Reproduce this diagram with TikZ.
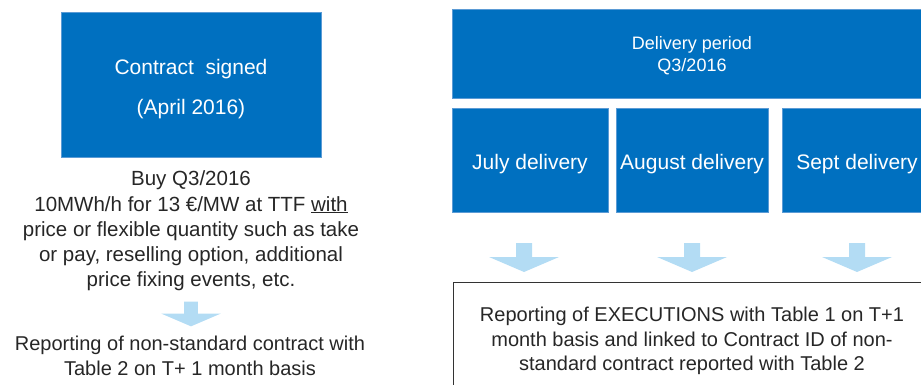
\documentclass[tikz,border=0pt]{standalone}
\usepackage{fontspec}
\setmainfont{Liberation Sans}
\definecolor{boxblue}{HTML}{0070C0}
\definecolor{edgeblue}{HTML}{5B9BD5}
\definecolor{arrowblue}{HTML}{B3DCF4}
\tikzset{
	bluebox/.style={fill=boxblue,draw=edgeblue,line width=0.6pt,inner sep=0pt},
	boxtext/.style={text=white,align=center,inner sep=0pt},
	note/.style={align=center,inner sep=0pt,text=black!85},
	downarrow/.pic={\fill[arrowblue] (-8,-14.5) -- (8,-14.5) -- (8,-0.5) -- (35,-0.5) -- (0,14.5) -- (-35,-0.5) -- (-8,-0.5) -- cycle;}
}
\begin{document}
\begin{tikzpicture}[x=1pt,y=-1pt]
			\useasboundingbox (0,0) rectangle (921,385);
			\clip (0,0) rectangle (921,385);
			% left side
			\node[bluebox,minimum width=260pt,minimum height=145pt] (sign) at (191,84.5) {};
			\node[boxtext,font=\fontsize{21}{40}\selectfont] (signtext) at ([yshift=-4.5pt]sign.center) {Contract\ \ signed\\(April 2016)};
			\node[note,font=\fontsize{20.5}{25.2}\selectfont] (buy) at (191,231) {Buy Q3/2016\\10MWh/h for 13 €/MW at TTF \underline{with}\\price or flexible quantity such as take\\or pay, reselling option, additional\\price fixing events, etc.};
			\pic[scale=0.85] at (191,314) {downarrow};
			\node[note,font=\fontsize{20}{25}\selectfont] (nonstd) at (190,356) {Reporting of non-standard contract with\\Table 2 on T+ 1 month basis};
			% right side
			\node[bluebox,minimum width=480pt,minimum height=89pt] (period) at (692,53.5) {};
			\node[boxtext,font=\fontsize{18}{22}\selectfont] (periodtext) at ([yshift=-2.5pt]period.center) {Delivery period\\Q3/2016};
			\node[bluebox,minimum width=156pt,minimum height=104pt] (july) at (530,160) {};
			\node[bluebox,minimum width=152pt,minimum height=104pt] (august) at (692,160) {};
			\node[bluebox,minimum width=150pt,minimum height=104pt] (sept) at (857,160) {};
			\foreach \m/\txt in {july/July delivery,august/August delivery,sept/Sept delivery}
				\node[boxtext,font=\fontsize{21}{25}\selectfont] (\m text) at ([yshift=-4.5pt]\m.center) {\txt};
			\foreach \x in {524,692,857}
				\pic at (\x,257.5) {downarrow};
			\node[draw=black!80,line width=1pt,minimum width=479pt,minimum height=130pt] (execbox) at (692.5,347) {};
			\node[note,font=\fontsize{20}{24.5}\selectfont] (exec) at (692,341) {Reporting of EXECUTIONS with Table 1 on T+1\\month basis and linked to Contract ID of non-\\standard contract reported with Table 2};
		\end{tikzpicture}
\end{document}
